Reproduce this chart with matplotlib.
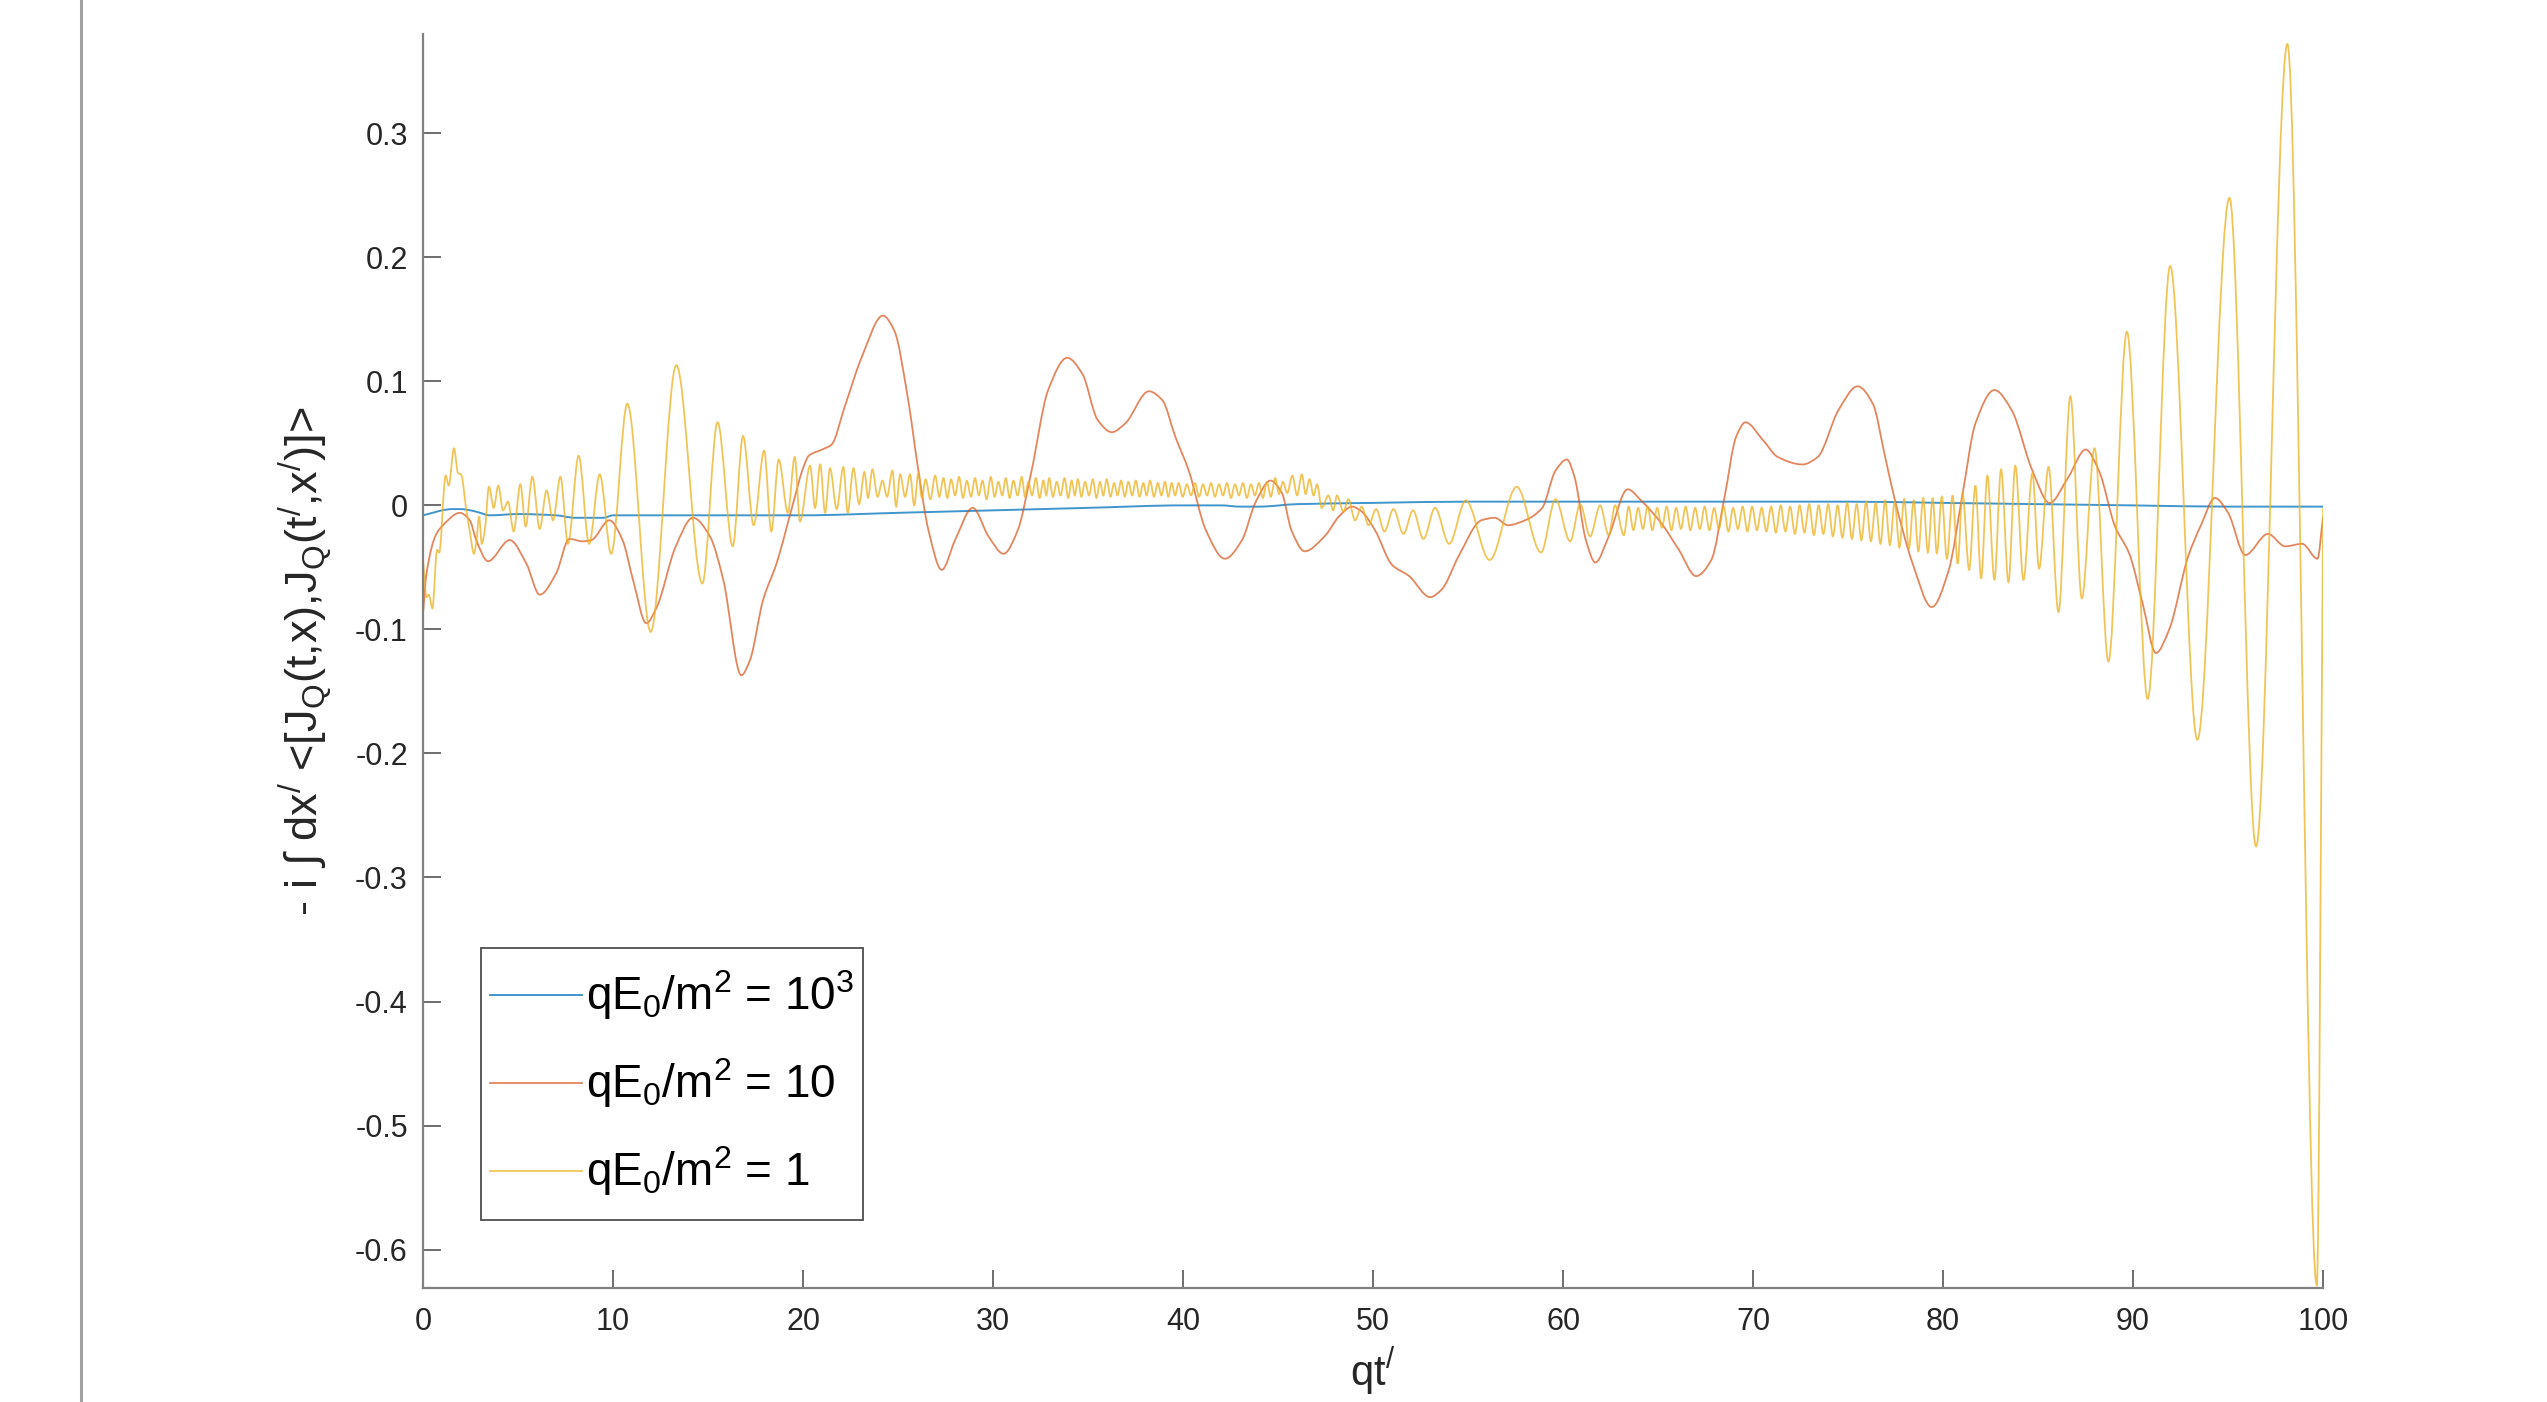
import matplotlib
matplotlib.use("Agg")
import matplotlib.pyplot as plt
import numpy as np
from matplotlib.lines import Line2D
from matplotlib.path import Path
from matplotlib.patches import PathPatch
from matplotlib.legend_handler import HandlerLine2D

plt.rcParams['font.family'] = ['Liberation Sans', 'DejaVu Sans']
plt.rcParams['mathtext.fontset'] = 'custom'
plt.rcParams['mathtext.rm'] = 'Liberation Sans'
plt.rcParams['mathtext.it'] = 'Liberation Sans'
plt.rcParams['mathtext.default'] = 'regular'
plt.rcParams['axes.unicode_minus'] = False

# qE0/m^2 = 10^3 (almost flat)
blue_t = [0, 0.5, 1, 1.5, 2, 2.5, 3, 3.5, 5, 7, 8, 9.5, 10, 15, 20, 25, 30, 35,
          40, 42, 43, 44, 46, 50, 55, 60, 65, 70, 75, 80, 85, 90, 95, 100]
blue_v = [-0.008, -0.006, -0.004, -0.003, -0.003, -0.004, -0.006, -0.008, -0.007,
          -0.008, -0.010, -0.010, -0.008, -0.008, -0.008, -0.006, -0.004, -0.002,
          0.000, 0.000, -0.001, -0.001, 0.001, 0.002, 0.003, 0.003, 0.003, 0.003,
          0.003, 0.002, 0.001, 0.000, -0.001, -0.001]

# qE0/m^2 = 10
red_t = [0.0, 0.18, 0.7, 1.05, 1.93, 2.46, 2.8, 3.42, 4.56, 5.44,
         6.14, 7.0, 7.7, 8.4, 8.86, 9.8, 10.5, 11.05, 11.75, 12.3,
         13.3, 14.2, 15.1, 15.8, 16.75, 17.2, 17.9, 18.6, 19.5, 20.0,
         20.3, 21.0, 21.5, 22.2, 23.1, 24.2, 24.8, 25.5, 26.07, 26.6,
         27.3, 28.0, 28.93, 29.76, 30.55, 31.3, 32.0, 32.9, 33.9, 34.7,
         35.5, 36.25, 36.95, 38.2, 38.9, 39.6, 40.3, 41.2, 42.2, 43.1,
         43.8, 44.6, 45.2, 45.7, 46.4, 47.5, 48.2, 48.9, 49.4, 50.1,
         51.0, 51.9, 53.0, 53.6, 54.5, 55.7, 56.4, 57.1, 58.0, 58.9,
         59.6, 60.2, 60.6, 61.2, 61.7, 62.4, 63.4, 64.1, 65.2, 66.1,
         67.0, 67.8, 68.5, 69.1, 69.6, 70.5, 71.3, 72.6, 73.4, 74.5,
         75.5, 76.3, 76.95, 77.5, 78.4, 79.4, 80.3, 81.0, 81.7, 82.7,
         83.6, 84.7, 85.6, 86.6, 87.5, 88.2, 89.05, 89.8, 90.5, 91.2,
         91.9, 92.9, 93.6, 94.3, 95.0, 95.9, 97.1, 98.0, 98.9, 99.7,
         100.0]
red_v = [-0.087, -0.055, -0.023, -0.016, -0.006, -0.012, -0.028, -0.045, -0.028, -0.047,
         -0.072, -0.055, -0.027, -0.029, -0.028, -0.012, -0.028, -0.060, -0.095, -0.082,
         -0.033, -0.010, -0.025, -0.060, -0.137, -0.125, -0.076, -0.047, 0.003, 0.030,
         0.040, 0.045, 0.049, 0.080, 0.120, 0.153, 0.141, 0.088, 0.028, -0.020,
         -0.052, -0.028, -0.002, -0.025, -0.039, -0.020, 0.026, 0.093, 0.119, 0.106,
         0.069, 0.059, 0.066, 0.092, 0.085, 0.055, 0.028, -0.020, -0.043, -0.028,
         0.002, 0.020, 0.010, -0.020, -0.037, -0.024, -0.009, -0.001, -0.005, -0.020,
         -0.048, -0.057, -0.074, -0.068, -0.041, -0.012, -0.010, -0.016, -0.012, -0.002,
         0.028, 0.037, 0.023, -0.028, -0.046, -0.025, 0.013, 0.004, -0.015, -0.036,
         -0.057, -0.044, 0.007, 0.055, 0.067, 0.053, 0.039, 0.033, 0.039, 0.077,
         0.096, 0.082, 0.039, 0.002, -0.047, -0.082, -0.052, 0.007, 0.066, 0.093,
         0.077, 0.028, 0.002, 0.023, 0.045, 0.028, -0.017, -0.039, -0.079, -0.119,
         -0.100, -0.041, -0.015, 0.006, -0.006, -0.040, -0.023, -0.033, -0.031, -0.043,
         -0.009]

# qE0/m^2 = 1 (peaks and troughs)
yellow_t = [
    0.0, 0.18, 0.3, 0.49, 0.74, 0.85, 1.19, 1.35, 1.63, 1.84,
    2.0, 2.28, 2.46, 2.68, 2.8, 2.95, 3.09, 3.25, 3.47, 3.72,
    3.96, 4.21, 4.47, 4.77, 5.12, 5.4, 5.75, 6.14, 6.5, 6.84,
    7.23, 7.63, 8.19, 8.74, 9.3, 9.9, 10.75, 11.98, 13.33, 14.7,
    15.5, 16.3, 16.84, 17.4, 17.95, 18.33, 18.72, 19.2, 19.56,
    19.84, 20.37, 20.63, 20.9, 21.16, 21.42, 21.77, 22.12, 22.35, 22.65,
    22.95, 23.23, 23.42, 23.65, 23.92, 24.18, 24.42, 24.7, 24.9, 25.11,
    25.37, 25.63, 25.85, 26.07, 26.25, 26.45, 26.7, 26.95, 27.17, 27.39,
    27.59, 27.79, 28.0, 28.21, 28.42, 28.62, 28.84, 29.05, 29.25, 29.44,
    29.66, 29.88, 30.08, 30.28, 30.48, 30.67, 30.87, 31.07, 31.29, 31.51,
    31.68, 31.86, 32.05, 32.25, 32.45, 32.65, 32.8, 32.95, 33.15, 33.35,
    33.55, 33.76, 33.95, 34.14, 34.3, 34.46, 34.65, 34.84, 35.05, 35.25,
    35.44, 35.63, 35.8, 35.98, 36.18, 36.37, 36.55, 36.74, 36.93, 37.12,
    37.32, 37.51, 37.71, 37.91, 38.08, 38.26, 38.47, 38.67, 38.86, 39.05,
    39.22, 39.4, 39.58, 39.76, 39.98, 40.2, 40.42, 40.63, 40.84, 41.05,
    41.26, 41.47, 41.68, 41.89, 42.1, 42.31, 42.52, 42.73, 42.94, 43.15,
    43.36, 43.57, 43.78, 43.99, 44.2, 44.41, 44.62, 44.85, 45.05, 45.25,
    45.48, 45.75, 46.0, 46.25, 46.45, 46.65, 46.87, 47.05, 47.3,
    47.65, 47.9, 48.1, 48.44, 48.7, 49.05, 49.4, 49.76, 50.16, 50.6,
    51.07, 51.6, 52.1, 52.65, 53.26, 54.0, 54.88, 56.13, 57.56, 58.84,
    59.6, 60.37, 60.9, 61.42, 61.95, 62.4, 62.74, 63.2,
    63.45, 63.7, 63.95, 64.2, 64.45, 64.7, 64.95, 65.2, 65.45, 65.7,
    65.95, 66.2, 66.45, 66.7, 66.95, 67.2, 67.45, 67.7, 67.95, 68.2,
    68.45, 68.7, 68.95, 69.2, 69.45, 69.7, 69.95, 70.2, 70.45, 70.7,
    70.95, 71.2, 71.45, 71.7, 71.95, 72.2, 72.45, 72.7, 72.95, 73.2,
    73.45, 73.7, 73.95, 74.2, 74.45, 74.7, 74.95, 75.2, 75.45, 75.7,
    75.95, 76.2, 76.45, 76.7, 76.95, 77.2, 77.45, 77.7, 77.95, 78.2,
    78.45, 78.7, 78.95, 79.2, 79.45, 79.67, 79.93, 80.2, 80.5, 80.77,
    81.02, 81.37, 81.7, 82.0, 82.33, 82.7, 83.05, 83.44, 83.8, 84.23,
    84.7, 85.05, 85.55, 86.07, 86.7, 87.3, 87.97, 88.7, 89.67, 90.77,
    91.95, 93.38, 95.07, 96.47, 98.12, 99.67, 100.0]
yellow_v = [
    -0.044, -0.074, -0.072, -0.083, -0.036, -0.038, 0.024, 0.016, 0.046, 0.026,
    0.025, -0.004, -0.021, -0.039, -0.030, -0.009, -0.031, -0.020, 0.015, -0.002,
    0.016, -0.004, 0.003, -0.021, 0.017, -0.017, 0.023, -0.019, 0.012, -0.012,
    0.023, -0.031, 0.040, -0.031, 0.025, -0.039, 0.082, -0.102, 0.113, -0.063,
    0.067, -0.033, 0.056, -0.016, 0.044, -0.021, 0.037, -0.006, 0.039,
    -0.013, 0.032, -0.002, 0.033, -0.006, 0.030, -0.003, 0.031, -0.006, 0.030,
    0.001, 0.027, 0.006, 0.029, 0.007, 0.020, 0.007, 0.028, -0.001, 0.025,
    0.007, 0.025, 0.000, 0.026, 0.006, 0.021, 0.005, 0.024, 0.007, 0.022,
    0.006, 0.021, 0.008, 0.023, 0.006, 0.020, 0.007, 0.022, 0.008, 0.020,
    0.005, 0.023, 0.007, 0.019, 0.008, 0.022, 0.006, 0.020, 0.008, 0.023,
    0.007, 0.019, 0.008, 0.022, 0.006, 0.020, 0.008, 0.022, 0.007, 0.019,
    0.008, 0.022, 0.006, 0.020, 0.008, 0.021, 0.007, 0.019, 0.008, 0.021,
    0.006, 0.019, 0.008, 0.021, 0.007, 0.018, 0.008, 0.020, 0.007, 0.019,
    0.008, 0.020, 0.007, 0.018, 0.008, 0.020, 0.007, 0.018, 0.008, 0.019,
    0.007, 0.018, 0.008, 0.018, 0.007, 0.017, 0.008, 0.018, 0.007, 0.017,
    0.008, 0.018, 0.007, 0.017, 0.008, 0.018, 0.006, 0.017, 0.008, 0.018,
    0.006, 0.017, 0.008, 0.018, 0.006, 0.019, 0.007, 0.022, 0.009, 0.019,
    0.010, 0.024, 0.008, 0.025, 0.009, 0.021, 0.008, 0.017, -0.002,
    0.008, -0.004, 0.008, -0.005, 0.005, -0.012, -0.001, -0.016, -0.003, -0.021,
    -0.003, -0.023, -0.004, -0.027, -0.002, -0.031, 0.004, -0.044, 0.015, -0.038,
    0.005, -0.029, 0.001, -0.025, 0.000, -0.024, 0.000, -0.024,
    -0.001, -0.020, -0.002, -0.019, -0.001, -0.020, -0.002, -0.018, -0.001, -0.020,
    -0.002, -0.019, -0.001, -0.020, -0.002, -0.019, -0.001, -0.020, -0.002, -0.019,
    -0.001, -0.021, -0.002, -0.019, -0.001, -0.021, -0.001, -0.020, -0.002, -0.021,
    -0.001, -0.022, 0.000, -0.021, -0.001, -0.023, 0.000, -0.022, 0.001, -0.024,
    0.000, -0.023, 0.001, -0.025, 0.000, -0.026, 0.002, -0.027, 0.001, -0.028,
    0.003, -0.029, 0.002, -0.031, 0.004, -0.032, 0.003, -0.034, 0.005, -0.035,
    0.004, -0.037, 0.006, -0.038, 0.006, -0.039, 0.007, -0.043, 0.008, -0.047,
    0.010, -0.052, 0.016, -0.059, 0.024, -0.060, 0.029, -0.062, 0.032, -0.060,
    0.026, -0.051, 0.031, -0.086, 0.088, -0.075, 0.046, -0.126, 0.140, -0.156,
    0.193, -0.189, 0.248, -0.275, 0.372, -0.629, -0.002]

labels = [r"q$E_{0}$/$m^{2}$ = $10^{3}$",
          r"q$E_{0}$/$m^{2}$ = 10",
          r"q$E_{0}$/$m^{2}$ = 1"]
colors = ['#0072BD', '#D95319', '#EDB120']


def smooth_path(t, v):
    # monotone cubic (pchip-style) bezier through the read points
    t = np.asarray(t, float)
    v = np.asarray(v, float)
    h = np.diff(t)
    d = np.diff(v) / h
    m = np.zeros_like(v)
    m[0], m[-1] = d[0], d[-1]
    for k in range(1, len(v) - 1):
        if d[k - 1] * d[k] > 0:
            w1 = 2 * h[k] + h[k - 1]
            w2 = h[k] + 2 * h[k - 1]
            m[k] = (w1 + w2) / (w1 / d[k - 1] + w2 / d[k])
    verts = [(t[0], v[0])]
    codes = [Path.MOVETO]
    for k in range(len(t) - 1):
        verts += [(t[k] + h[k] / 3, v[k] + m[k] * h[k] / 3),
                  (t[k + 1] - h[k] / 3, v[k + 1] - m[k + 1] * h[k] / 3),
                  (t[k + 1], v[k + 1])]
        codes += [Path.CURVE4] * 3
    return Path(verts, codes)


class LoweredLine(HandlerLine2D):
    # legend line sits a bit lower so it lines up with the text
    def create_artists(self, legend, orig_handle, xdescent, ydescent,
                       width, height, fontsize, trans):
        arts = super().create_artists(legend, orig_handle, xdescent, ydescent,
                                      width, height, fontsize, trans)
        for a in arts:
            a.set_ydata(np.asarray(a.get_ydata()) - 0.25 * fontsize)
        return arts


fig = plt.figure(figsize=(25.47, 14.02), dpi=100)
ax = fig.add_axes([0.1661, 0.0813, 0.746, 0.8944])

series = [(blue_t, blue_v, 1.4, 0.75), (red_t, red_v, 1.3, 0.7), (yellow_t, yellow_v, 1.3, 0.75)]
handles = []
for (t, v, lw, a), c, lab in zip(series, colors, labels):
    ax.add_patch(PathPatch(smooth_path(t, v), facecolor='none', edgecolor=c, lw=lw, alpha=a))
    handles.append(Line2D([], [], color=c, lw=lw, alpha=a, label=lab))

ax.set_xlim(0, 100)
ax.set_ylim(-0.631, 0.380)
ax.set_xticks(range(0, 101, 10))
ax.set_yticks([-0.6, -0.5, -0.4, -0.3, -0.2, -0.1, 0, 0.1, 0.2, 0.3])
ax.set_yticklabels(['-0.6', '-0.5', '-0.4', '-0.3', '-0.2', '-0.1', '0', '0.1', '0.2', '0.3'])

for s in ['top', 'right']:
    ax.spines[s].set_visible(False)
for s in ['left', 'bottom']:
    ax.spines[s].set_color('#808080')
    ax.spines[s].set_linewidth(1.6)

ax.tick_params(direction='in', length=13, width=1.2, color='#555555',
               labelsize=22, labelcolor='#262626')
ax.tick_params(axis='x', pad=14)
ax.tick_params(axis='y', pad=11)

ax.set_xlabel(r"q$t^{/}$", fontsize=30, color='#262626')
ax.xaxis.set_label_coords(0.5, -0.046)
ax.set_ylabel(r"- i ∫ d$x^{/}$ <[$J_{Q}$(t,x),$J_{Q}$($t^{/}$,$x^{/}$)]>",
              fontsize=32.5, color='#262626')
ax.yaxis.set_label_coords(-0.047, 0.5)

leg = ax.legend(handles=handles, loc='lower left', bbox_to_anchor=(0.0305, 0.0542),
                borderaxespad=0, fontsize=33, frameon=True, fancybox=False,
                edgecolor='#404040', framealpha=1, handlelength=2.0,
                handleheight=2.25, handletextpad=0.08, labelspacing=0.21,
                borderpad=0.2, handler_map={Line2D: LoweredLine()})
leg.get_frame().set_linewidth(1.2)

# grey edge on the left of the screenshot
fig.add_artist(Line2D([0.0318, 0.0318], [0, 1], transform=fig.transFigure,
                      color='#a0a0a0', lw=2.2))

fig.savefig('out.png', dpi=100)
